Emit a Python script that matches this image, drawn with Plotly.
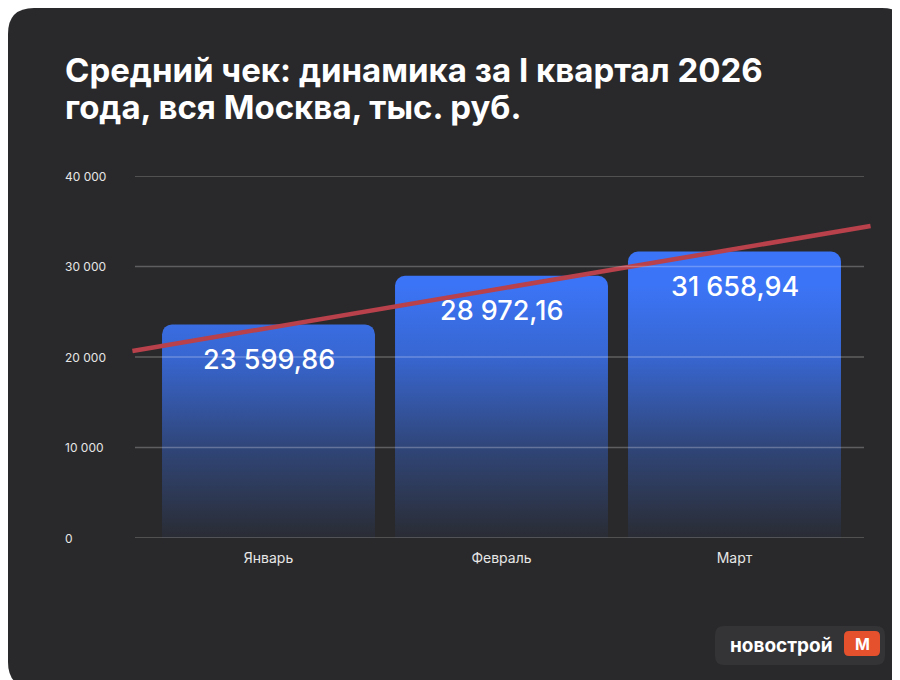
import numpy as np
import plotly.graph_objects as go

# --- data ---
months = ["Январь", "Февраль", "Март"]
avg_check = [23599.86, 28972.16, 31658.94]
value_labels = ["23 599,86", "28 972,16", "31 658,94"]
y_ticks = [0, 10000, 20000, 30000, 40000]
y_tick_labels = ["0", "10 000", "20 000", "30 000", "40 000"]
# red trend line (ends)
trend_x = [-0.584, 2.584]
trend_y = [20660, 34480]

# --- canvas geometry (pixels) ---
W, H = 900, 680
L, R, T, B = 122, 36, 168, 150
PW, PH = W - L - R, H - T - B

BG = "#29292b"
BLUE = "#3b74f6"
FONT = "Inter"


def px(x):
    return (x - L) / PW


def py(y):
    return (H - B - y) / PH


def rounded_rect(x0, y0, x1, y1, r):
    # x0,y0 top-left, x1,y1 bottom-right in pixels -> svg path in paper units
    rx, ry = r / PW, r / PH
    a, b, c, d = px(x0), px(x1), py(y0), py(y1)
    return (f"M {a + rx},{c} L {b - rx},{c} Q {b},{c} {b},{c - ry} "
            f"L {b},{d + ry} Q {b},{d} {b - rx},{d} L {a + rx},{d} "
            f"Q {a},{d} {a},{d + ry} L {a},{c - ry} Q {a},{c} {a + rx},{c} Z")


x_pos = np.arange(len(months))
x_range = [(L - 493.5) / 233 + 1, (W - R - 493.5) / 233 + 1]

fig = go.Figure()

fig.add_trace(go.Bar(
    x=x_pos, y=avg_check, width=0.914,
    marker=dict(color=BLUE, cornerradius=10, line=dict(width=0)),
    hoverinfo="skip",
))

# dark fade towards the bottom of the bars
fig.add_trace(go.Scatter(
    x=x_range, y=[33000, 33000], mode="lines", line=dict(width=0),
    fill="tozeroy",
    fillgradient=dict(
        type="vertical", start=0, stop=30000,
        colorscale=[
            [0.0, "rgba(41,41,43,0.96)"],
            [0.33, "rgba(41,41,43,0.62)"],
            [0.67, "rgba(41,41,43,0.18)"],
            [0.93, "rgba(41,41,43,0)"],
            [1.0, "rgba(41,41,43,0)"],
        ],
    ),
    hoverinfo="skip",
))

fig.add_trace(go.Scatter(
    x=trend_x, y=trend_y, mode="lines",
    line=dict(color="#b8414b", width=4.5),
    hoverinfo="skip",
))

shapes = [dict(type="path", xref="paper", yref="paper",
               path=rounded_rect(0, 0, W, H, 26),
               fillcolor=BG, line=dict(width=0), layer="below")]

for v in y_ticks:
    shapes.append(dict(type="line", xref="paper", yref="y",
                       x0=px(127), x1=px(856), y0=v, y1=v,
                       line=dict(color="rgba(255,255,255,0.25)", width=1.5),
                       layer="above"))

# logo
shapes.append(dict(type="path", xref="paper", yref="paper",
                   path=rounded_rect(707, 618, 877, 657, 9),
                   fillcolor="#343437", line=dict(width=0), layer="above"))
shapes.append(dict(type="path", xref="paper", yref="paper",
                   path=rounded_rect(836, 623, 872, 648, 5),
                   fillcolor="#e5502d", line=dict(width=0), layer="above"))

annotations = [
    dict(text="<b>Средний чек: динамика за I квартал 2026</b>",
         xref="paper", yref="paper", x=px(55), y=py(62),
         xanchor="left", yanchor="middle", showarrow=False,
         font=dict(family=FONT, size=33, color="white")),
    dict(text="<b>года, вся Москва, тыс. руб.</b>",
         xref="paper", yref="paper", x=px(55), y=py(99),
         xanchor="left", yanchor="middle", showarrow=False,
         font=dict(family=FONT, size=33, color="white")),
    dict(text="<b>новострой</b>", xref="paper", yref="paper",
         x=px(720), y=py(637), xanchor="left", yanchor="middle",
         showarrow=False, font=dict(family=FONT, size=19, color="white")),
    dict(text="<b>М</b>", xref="paper", yref="paper",
         x=px(854), y=py(636), xanchor="center", yanchor="middle",
         showarrow=False, font=dict(family=FONT, size=16, color="white")),
]

for v, t in zip(y_ticks, y_tick_labels):
    annotations.append(dict(text=t, xref="paper", yref="y", x=px(55), y=v,
                            xanchor="left", yanchor="middle", showarrow=False,
                            font=dict(family=FONT, size=12, color="#e6e6e6")))

for i, (v, t) in enumerate(zip(avg_check, value_labels)):
    annotations.append(dict(text=t, x=i, y=v, xref="x", yref="y",
                            yanchor="middle", yshift=-35, showarrow=False,
                            font=dict(family=FONT, size=27, color="white",
                                      weight=500)))

fig.update_layout(
    width=W, height=H,
    margin=dict(l=L, r=R, t=T, b=B, pad=0),
    paper_bgcolor="white",
    plot_bgcolor="rgba(0,0,0,0)",
    showlegend=False,
    shapes=shapes,
    annotations=annotations,
    xaxis=dict(range=x_range, tickvals=list(x_pos), ticktext=months,
               showgrid=False, zeroline=False, showline=False,
               ticks="outside", ticklen=7, tickcolor="rgba(0,0,0,0)",
               tickfont=dict(family=FONT, size=14, color="#e6e6e6"),
               fixedrange=True),
    yaxis=dict(range=[0, 40000], showgrid=False, zeroline=False,
               showticklabels=False, fixedrange=True),
)

fig.write_html("out.html")
